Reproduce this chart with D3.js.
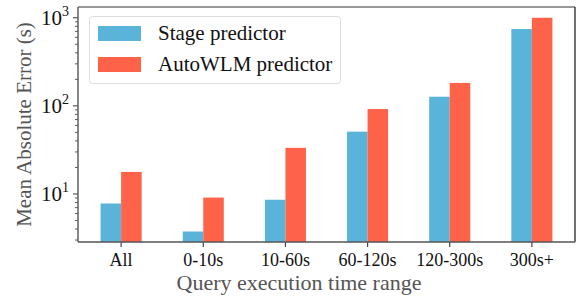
<!DOCTYPE html>
<html><head><meta charset="utf-8">
<script src="https://cdn.jsdelivr.net/npm/d3@7"></script>
<style>body{margin:0;background:#fff}svg{display:block}</style>
</head><body><svg id="c" width="582" height="296" font-family="Liberation Serif, serif"></svg>
<script>
const categories = ["All","0-10s","10-60s","60-120s","120-300s","300s+"];
const stageValues = [7.8, 3.75, 8.6, 51, 127, 745];
const autowlmValues = [17.8, 9.1, 33.4, 92, 182, 1000];
const seriesNames = ["Stage predictor","AutoWLM predictor"];
const seriesColors = ["#5ab4da","#fe634a"];
const yTickExps = [1,2,3];

const FONT = "Liberation Serif";
const svg = d3.select("#c");
const L=78, R=575, T=7, B=242;
const x = d3.scaleLinear().domain([-0.525, 5.525]).range([L, R]);
const y = d3.scaleLog().domain([2.85, 1325]).range([B, T]);
const bw = 0.25;

const g = svg.append("g");
[stageValues, autowlmValues].forEach((vals, s) => {
  g.selectAll(null).data(vals).enter().append("rect")
    .attr("x", (d,i) => x(i + (s===0 ? -bw : 0)))
    .attr("width", x(bw) - x(0))
    .attr("y", d => y(d))
    .attr("height", d => B - y(d))
    .attr("fill", seriesColors[s]);
});

const minor = [];
for (let e = 0; e <= 3; e++) for (let m = 2; m <= 9; m++) { const v = m*Math.pow(10,e); if (v>=y.domain()[0] && v<=y.domain()[1]) minor.push(v); }
g.selectAll(null).data(minor).enter().append("line")
  .attr("x1", L-3).attr("x2", L).attr("y1", d=>y(d)).attr("y2", d=>y(d))
  .attr("stroke", "#333").attr("stroke-width", 0.8);
g.selectAll(null).data(yTickExps).enter().append("line")
  .attr("x1", L-5).attr("x2", L).attr("y1", d=>y(Math.pow(10,d))).attr("y2", d=>y(Math.pow(10,d)))
  .attr("stroke", "#333").attr("stroke-width", 1);
const yl = g.selectAll(null).data(yTickExps).enter().append("text")
  .attr("x", L-9).attr("y", d=>y(Math.pow(10,d))+7)
  .attr("text-anchor","end").attr("font-family", FONT).attr("font-size", 21).attr("fill","#111");
yl.append("tspan").text("10");
yl.append("tspan").attr("dy", -9).attr("font-size", 14).text(d=>d);

g.selectAll(null).data(categories).enter().append("line")
  .attr("x1", (d,i)=>x(i)).attr("x2",(d,i)=>x(i)).attr("y1", B).attr("y2", B+5)
  .attr("stroke","#444").attr("stroke-width",1.2);
g.selectAll(null).data(categories).enter().append("text")
  .attr("x",(d,i)=>x(i)).attr("y", B+24).attr("text-anchor","middle")
  .attr("font-family", FONT).attr("font-size", 18).attr("fill","#111").text(d=>d);

g.append("line").attr("x1",L).attr("x2",R).attr("y1",T).attr("y2",T).attr("stroke","#777").attr("stroke-width",1.6);
g.append("line").attr("x1",R).attr("x2",R).attr("y1",T).attr("y2",B).attr("stroke","#111").attr("stroke-width",1.2);
g.append("line").attr("x1",L).attr("x2",L).attr("y1",T).attr("y2",B).attr("stroke","#555").attr("stroke-width",1.4);
g.append("line").attr("x1",L).attr("x2",R).attr("y1",B).attr("y2",B).attr("stroke","#555").attr("stroke-width",1.4);

svg.append("text").attr("transform","translate(31,"+((T+B)/2)+") rotate(-90)")
  .attr("text-anchor","middle").attr("font-family", FONT).attr("font-size",21).attr("fill","#555").text("Mean Absolute Error (s)");
svg.append("text").attr("x", 299).attr("y", 290).attr("text-anchor","middle")
  .attr("font-family", FONT).attr("font-size",22).attr("fill","#555").text("Query execution time range");

const lg = svg.append("g");
lg.append("rect").attr("x",89.5).attr("y",16.5).attr("width",251).attr("height",67).attr("rx",3)
  .attr("fill","#fff").attr("fill-opacity",0.8).attr("stroke","#ddd").attr("stroke-width",1);
seriesNames.forEach((n,i)=>{
  lg.append("rect").attr("x",98).attr("y",26+i*31).attr("width",43).attr("height",15).attr("fill",seriesColors[i]);
  lg.append("text").attr("x",158).attr("y",40+i*31).attr("font-family", FONT).attr("font-size",21).attr("fill","#111").text(n);
});
</script></body></html>
